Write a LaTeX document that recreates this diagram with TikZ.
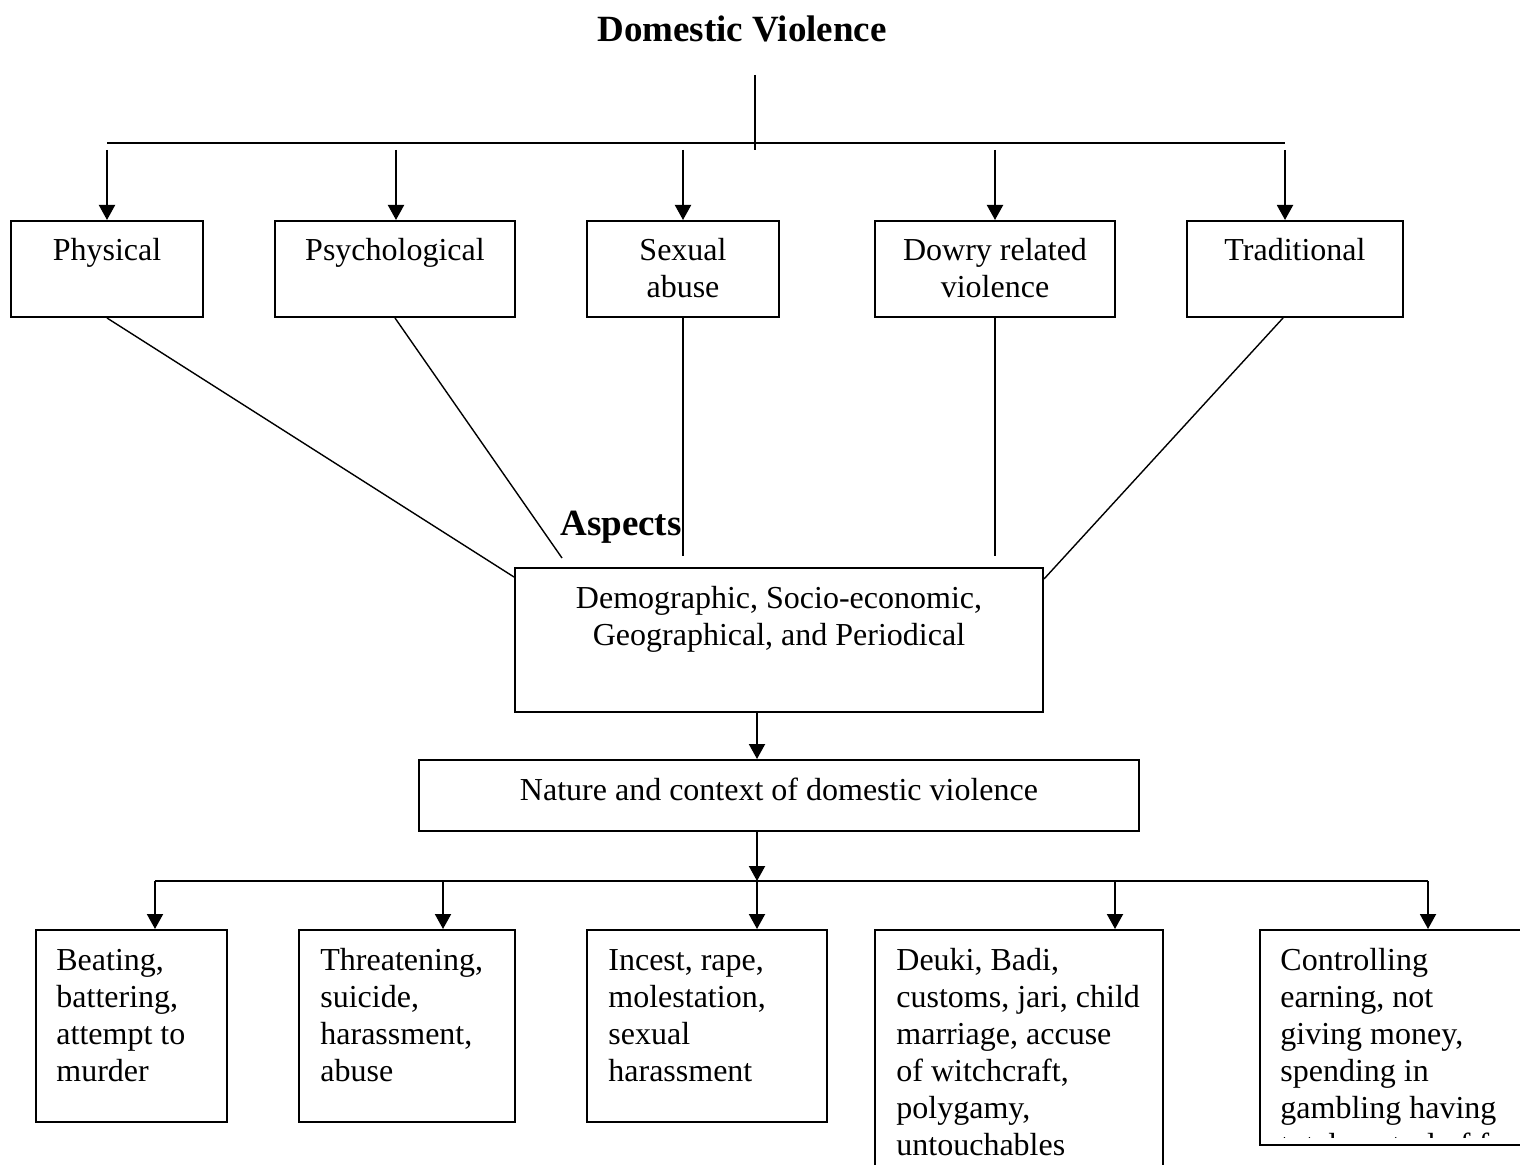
\documentclass[tikz,border=0pt]{standalone}
\usepackage{fontspec}
\setmainfont{Liberation Serif}
\usetikzlibrary{arrows.meta,fit,calc}
\tikzset{
  bx/.style={draw, line width=1pt, inner sep=0pt},
  txt/.style={inner sep=0pt, font=\fontsize{16}{18.5}\selectfont},
  ctxt/.style={txt, align=center, anchor=north},
  ltxt/.style={txt, align=left, anchor=north west},
  ttl/.style={inner sep=0pt, font=\fontsize{18.5}{22}\selectfont\bfseries},
  ln/.style={line width=0.7pt},
  bus/.style={line width=1pt},
  arr/.style={line width=1pt, -{Triangle[width=8pt,length=7.5pt]}},
}
\begin{document}
\begin{tikzpicture}[x=0.5pt,y=-0.5pt]
\useasboundingbox (0,0) rectangle (1520,1165);
\clip (0,0) rectangle (1520,1165);
% title
\node[ttl, anchor=base] (title) at (742,42) {Domestic Violence};
\coordinate (t0) at (755,75);
\coordinate (t1) at (755,150);
\coordinate (bl) at (107,143);
\coordinate (br) at (1285,143);
\draw[ln] (t0) -- (t1);
\draw[ln] (bl) -- (br);
% top boxes
\node[bx, fit={(11,221)(203,317)}] (phys) {};
\node[bx, fit={(275,221)(515,317)}] (psy) {};
\node[bx, fit={(587,221)(779,317)}] (sex) {};
\node[bx, fit={(875,221)(1115,317)}] (dow) {};
\node[bx, fit={(1187,221)(1403,317)}] (trad) {};
\node[ctxt] (physT) at (107,234) {\strut Physical};
\node[ctxt] (psyT) at (395,234) {\strut Psychological};
\node[ctxt] (sexT) at (683,234) {\strut Sexual\\abuse};
\node[ctxt] (dowT) at (995,234) {\strut Dowry related\\violence};
\node[ctxt] (tradT) at (1295,234) {\strut Traditional};
% top arrows
\foreach \n/\x in {phys/107,psy/396,sex/683,dow/995,trad/1285}{
  \coordinate (s\n) at (\x,150);
  \draw[arr] (s\n) -- (s\n |- \n.north);
}
% aspects
\node[ttl, anchor=base west] (aspl) at (560,536) {Aspects};
\node[bx, fit={(515,568)(1043,712)}] (asp) {};
\node[ctxt] (aspT) at (779,582) {\strut Demographic, Socio-economic,\\Geographical, and Periodical};
\coordinate (e2) at (562,558);
\coordinate (e3) at (683,556);
\coordinate (e4) at (995,556);
\draw[ln] (phys.south) -- ($(asp.north west)+(0,10)$);
\draw[ln] (psy.south) -- (e2);
\draw[ln] (sex.south) -- (e3);
\draw[ln] (dow.south) -- (e4);
\draw[ln] ($(trad.south)+(-12,0)$) -- ($(asp.north east)+(0,12)$);
% nature
\node[bx, fit={(419,760)(1139,831)}] (nat) {};
\node[ctxt] (natT) at (779,774) {\strut Nature and context of domestic violence};
\coordinate (a1) at (757,0);
\draw[arr] (asp.south -| a1) -- (nat.north -| a1);
\coordinate (bbl) at (155,881);
\coordinate (bbr) at (1428,881);
\coordinate (bbm) at (757,881);
\draw[arr] (nat.south -| a1) -- (bbm);
\draw[bus] (bbl) -- (bbr);
% bottom boxes
\node[bx, fit={(36,930)(227,1122)}] (beat) {};
\node[bx, fit={(299,930)(515,1122)}] (thr) {};
\node[bx, fit={(587,930)(827,1122)}] (inc) {};
\node[bx, fit={(875,930)(1163,1180)}] (deu) {};
\node[bx, fit={(1260,930)(1540,1145)}] (con) {};
\node[ltxt] (beatT) at (56,944) {\strut Beating,\\battering,\\attempt to\\murder};
\node[ltxt] (thrT) at (320,944) {\strut Threatening,\\suicide,\\harassment,\\abuse};
\node[ltxt] (incT) at (608,944) {\strut Incest, rape,\\molestation,\\sexual\\harassment};
\node[ltxt] (deuT) at (896,944) {\strut Deuki, Badi,\\customs, jari, child\\marriage, accuse\\of witchcraft,\\polygamy,\\untouchables};
\begin{scope}
\clip (1261,931) rectangle (1539,1137);
\node[ltxt] (conT) at (1280,944) {\strut Controlling\\earning, not\\giving money,\\spending in\\gambling having\\total control of family};
\end{scope}
\foreach \n/\x in {beat/155,thr/443,inc/757,deu/1115,con/1428}{
  \coordinate (b\n) at (\x,881);
  \draw[arr] (b\n) -- (b\n |- \n.north);
}
\end{tikzpicture}
\end{document}
